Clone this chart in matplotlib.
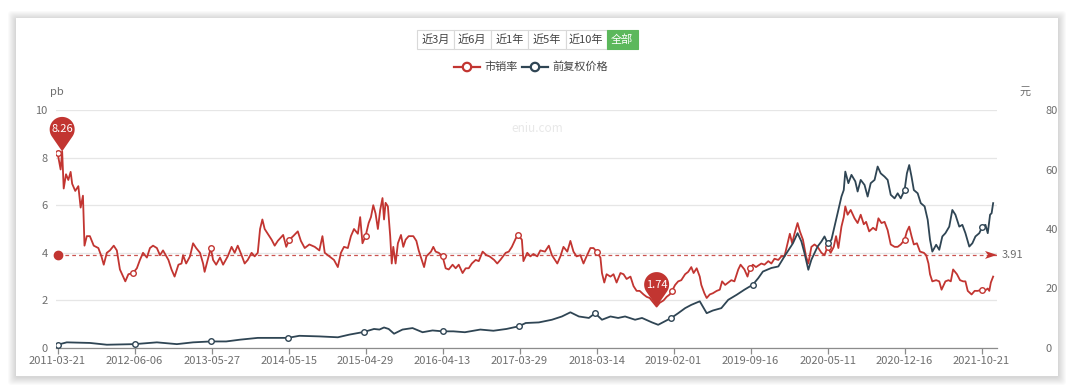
import numpy as np
import matplotlib
matplotlib.use("Agg")
import matplotlib.pyplot as plt
from matplotlib.path import Path
from matplotlib.patches import PathPatch, Rectangle, FancyBboxPatch, Circle
from matplotlib.lines import Line2D
from matplotlib.transforms import Affine2D, ScaledTranslation

plt.rcParams['font.family'] = ['Noto Sans CJK SC', 'DejaVu Sans']

# ---------------- data ----------------
dates = ['2011-03-21', '2012-06-06', '2013-05-27', '2014-05-15', '2015-04-29',
         '2016-04-13', '2017-03-29', '2018-03-14', '2019-02-01', '2019-09-16',
         '2020-05-11', '2020-12-16', '2021-10-21']
tick_every = 100          # one date label every 100 trading days
last_day = 1220

ps_day = [0, 4, 6, 8, 11, 14, 17, 19, 23, 27, 30, 33, 35, 38, 42, 47, 53, 57, 60, 64,
          68, 73, 77, 81, 88, 92, 98, 103, 107, 111, 116, 120, 124, 129, 133, 137, 144, 148, 152, 157,
          161, 163, 167, 172, 176, 180, 185, 189, 191, 195, 199, 202, 206, 211, 215, 221, 226, 230, 234, 239,
          243, 247, 252, 256, 260, 263, 266, 269, 273, 278, 282, 286,
          293, 297, 301, 306, 312, 316, 321, 327, 334, 340, 344, 347, 353, 359, 364, 368, 372, 377,
          381, 385, 390, 393, 396, 400, 404, 407, 410, 413, 416, 419, 422, 424, 426, 429, 432, 434, 436, 439,
          442, 446, 449, 452, 456, 462, 466, 469, 473, 476, 479, 485, 488, 491, 495, 500, 504, 508, 513, 517,
          521, 526, 530, 534, 538, 543, 547, 552, 557, 561, 567, 571, 575, 582, 586, 590, 595, 598,
          603, 605, 610, 614, 618, 623, 627, 633, 638, 642, 649, 653, 657, 662, 666, 670, 674, 679, 683, 687,
          692, 696, 700, 705, 707, 710, 713, 718, 722, 726, 731, 735, 739, 744, 748, 752, 756, 761, 765, 769,
          774, 778, 782, 787, 791, 795, 798, 802, 806, 810, 815, 819, 823, 826, 830, 834, 836, 840, 843, 847,
          851, 856, 860, 863, 867, 871, 875, 879, 884, 887, 892, 896, 899, 903, 907,
          914, 918, 923, 927, 931, 936, 940, 944, 948, 951, 954, 957, 961, 964, 968, 972, 975, 979, 983, 987,
          992, 996, 1000, 1004, 1008, 1011, 1014, 1018, 1021, 1023, 1026, 1030, 1035, 1039, 1043, 1047, 1050, 1054, 1059, 1063,
          1066, 1070, 1074, 1078, 1082, 1087, 1091, 1095, 1100, 1103, 1106, 1109, 1112, 1116, 1120, 1125, 1128, 1131, 1133, 1136,
          1141, 1145, 1148, 1153, 1157, 1160, 1163, 1168, 1172, 1176, 1179, 1182, 1187, 1191, 1195, 1200, 1204, 1208, 1210, 1212,
          1215]
ps_val = [8.2, 7.5, 8.26, 6.7, 7.3, 7.06, 7.4, 6.9, 6.6, 6.8, 5.9, 6.4, 4.3, 4.7, 4.7, 4.3, 4.2, 3.85, 3.5, 4.0,
          4.1, 4.3, 4.1, 3.3, 2.8, 3.1, 3.15, 3.35, 3.7, 4.0, 3.8, 4.2, 4.3, 4.2, 3.9, 4.1, 3.7, 3.3, 3.0, 3.5,
          3.55, 3.9, 3.55, 3.85, 4.4, 4.2, 4.0, 3.55, 3.2, 3.7, 4.2, 3.7, 3.5, 3.8, 3.5, 3.85, 4.25, 4.0, 4.3, 3.9,
          3.55, 3.7, 4.0, 3.85, 4.0, 5.0, 5.4, 5.0, 4.8, 4.55, 4.3, 4.5,
          4.75, 4.25, 4.55, 4.7, 4.9, 4.5, 4.2, 4.35, 4.25, 4.1, 4.7, 4.0, 3.85, 3.7, 3.4, 4.0, 4.25, 4.2,
          4.7, 5.0, 4.8, 5.5, 4.4, 4.7, 5.25, 5.5, 6.0, 5.65, 5.0, 5.8, 6.3, 5.4, 6.1, 5.95, 4.7, 3.55, 4.25, 3.55,
          4.4, 4.75, 4.25, 4.55, 4.7, 4.7, 4.5, 4.1, 3.7, 3.4, 3.85, 4.05, 4.25, 4.05, 4.0, 3.85, 3.35, 3.3, 3.5, 3.35,
          3.5, 3.15, 3.35, 3.35, 3.55, 3.7, 3.65, 4.05, 3.9, 3.85, 3.7, 3.55, 3.7, 4.0, 4.05, 4.25, 4.6, 4.75,
          4.55, 3.65, 4.0, 3.85, 3.95, 3.85, 4.1, 4.05, 4.3, 3.9, 3.55, 3.85, 4.25, 4.05, 4.5, 4.05, 3.85, 3.9, 3.55, 3.85,
          4.2, 4.2, 4.05, 3.8, 3.15, 2.75, 3.1, 3.0, 3.1, 2.75, 3.15, 3.1, 2.9, 3.0, 2.6, 2.4, 2.4, 2.25, 2.15, 2.1,
          1.9, 1.74, 1.9, 2.0, 2.15, 2.25, 2.4, 2.65, 2.8, 2.85, 3.1, 3.2, 3.4, 3.15, 3.35, 3.0, 2.65, 2.3, 2.1, 2.25,
          2.3, 2.4, 2.45, 2.8, 2.65, 2.75, 2.85, 2.8, 3.3, 3.5, 3.3, 3.0, 3.35, 3.5, 3.4,
          3.55, 3.5, 3.65, 3.55, 3.75, 3.7, 3.85, 3.85, 4.4, 4.8, 4.4, 4.8, 5.25, 4.9, 4.55, 3.85, 3.55, 4.25, 4.35, 4.25,
          4.0, 3.9, 4.25, 4.0, 4.25, 4.7, 4.2, 5.1, 5.5, 5.95, 5.6, 5.8, 5.45, 5.25, 5.6, 5.2, 5.3, 4.9, 5.05, 4.95,
          5.45, 5.25, 5.3, 4.95, 4.35, 4.25, 4.25, 4.35, 4.55, 4.9, 5.1, 4.7, 4.35, 4.4, 4.05, 4.0, 3.9, 3.55, 3.1, 2.8,
          2.85, 2.8, 2.45, 2.8, 2.85, 2.8, 3.3, 3.1, 2.85, 2.8, 2.8, 2.4, 2.25, 2.4, 2.4, 2.45, 2.4, 2.5, 2.4, 2.75,
          3.0]

price_day = [0, 12, 42, 64, 100, 129, 155, 176, 199, 219, 237, 260, 280, 299, 314, 340, 364, 379, 398, 411,
             418, 424, 430, 437, 448, 461, 474, 487, 500, 514, 529, 549, 566, 583, 599, 608, 625, 642, 655, 666,
             677, 690, 698, 707, 718, 728, 737, 750, 759, 772, 780, 789, 797, 806, 815, 823, 834, 843, 851, 862,
             871, 882, 892, 903, 910, 916, 927, 936, 944, 951, 955, 961, 966, 970, 975, 979, 983, 987, 992, 996,
             1000, 1005, 1009, 1013, 1018, 1021, 1023, 1027, 1031, 1036, 1039, 1043, 1048, 1052, 1056, 1061, 1065, 1069, 1074, 1078,
             1082, 1087, 1091, 1095, 1100, 1103, 1106, 1109, 1112, 1117, 1121, 1126, 1130, 1133, 1136, 1141, 1145, 1149, 1153, 1158,
             1162, 1166, 1171, 1175, 1179, 1184, 1188, 1192, 1197, 1201, 1205, 1208, 1211, 1213, 1215]
price_val = [1.1, 1.9, 1.7, 1.1, 1.3, 1.9, 1.3, 1.9, 2.2, 2.2, 2.8, 3.4, 3.4, 3.4, 4.1, 3.9, 3.6, 4.5, 5.4, 6.4,
             6.2, 6.9, 6.4, 4.8, 6.2, 6.7, 5.3, 5.9, 5.6, 5.6, 5.3, 6.2, 5.8, 6.4, 7.3, 8.4, 8.6, 9.5, 10.6, 12.0,
             10.6, 10.1, 11.7, 9.5, 10.6, 10.1, 10.6, 9.5, 10.1, 8.6, 7.8, 9.0, 10.1, 11.7, 13.4, 14.5, 15.7, 11.7, 12.6, 13.4,
             16.2, 17.9, 19.6, 21.3, 23.5, 25.7, 26.9, 27.4, 30.8, 33.6, 35.2, 38.6, 35.8, 31.9, 26.3, 29.7, 31.9, 34.1, 35.8, 37.5,
             35.2, 36.4, 40.8, 45.3, 50.9, 53.1, 59.3, 55.4, 58.2, 56.0, 52.6, 56.5, 54.8, 50.9, 55.4, 56.5, 61.0, 58.7, 57.6, 56.5,
             51.5, 50.3, 52.0, 50.3, 53.1, 58.7, 61.5, 57.6, 53.1, 52.0, 48.7, 47.6, 43.1, 36.4, 32.4, 34.7, 33.0, 37.5, 38.6, 40.8,
             46.4, 44.8, 40.8, 41.4, 38.6, 34.1, 35.2, 37.5, 38.6, 40.8, 41.4, 38.6, 44.8, 45.3, 48.7]

ps_avg = 3.91

RED = '#c23531'
DARK = '#2f4554'
GRAY_TXT = '#6e6e6e'

W, H = 1080, 391
fig = plt.figure(figsize=(W / 100, H / 100), dpi=100)
fig.patch.set_facecolor('white')

# ---------------- card background ----------------
bg = fig.add_axes([0, 0, 1, 1], zorder=0)
bg.set_xlim(0, W)
bg.set_ylim(H, 0)
bg.axis('off')
for k in range(8, 0, -1):
    bg.add_patch(FancyBboxPatch((16 - k, 18 - k + 1), 1042 + 2 * k, 358 + 2 * k,
                                boxstyle='round,pad=0,rounding_size=4',
                                fc='#000000', ec='none', alpha=0.018))
bg.add_patch(Rectangle((16, 18), 1042, 358, fc='white', ec='none'))

# range buttons
labels_btn = ['近3月', '近6月', '近1年', '近5年', '近10年', '全部']
edges = [417, 453.5, 491, 528, 565.5, 606.5, 637.5]
for i, lab in enumerate(labels_btn):
    x0, x1 = edges[i], edges[i + 1]
    active = (lab == '全部')
    bg.add_patch(Rectangle((x0, 29.5), x1 - x0, 19, fc='#5cb85c' if active else 'white',
                           ec='#5cb85c' if active else '#d9d9d9', lw=0.8))
    bg.text((x0 + x1) / 2, 39.3, lab, ha='center', va='center', fontsize=8,
            color='white' if active else '#444444')

# legend
def legend_item(x, color, label):
    bg.add_line(Line2D([x, x + 26], [67, 67], color=color, lw=1.6))
    bg.add_patch(Circle((x + 13, 67), 4.2, fc='white', ec=color, lw=1.6, zorder=3))
    bg.text(x + 30, 67, label, ha='left', va='center', fontsize=8, color='#444444')

legend_item(454, RED, '市销率')
legend_item(522, DARK, '前复权价格')

# watermark
bg.text(537, 128, 'eniu.com', ha='center', va='center', fontsize=8.5, color='#e8e8e8')

# ---------------- plot area ----------------
left, right, top, bottom = 56, 997, 110, 348
ax = fig.add_axes([left / W, 1 - bottom / H, (right - left) / W, (bottom - top) / H], zorder=2)
ax.patch.set_alpha(0)
ax2 = ax.twinx()

ax.set_xlim(-2, last_day)
ax.set_ylim(0, 10)
ax2.set_ylim(0, 80)

ax.set_yticks(np.arange(0, 11, 2))
ax2.set_yticks(np.arange(0, 81, 20))
ax.grid(axis='y', color='#e6e6e6', lw=0.9)
ax.set_axisbelow(True)

tick_pos = np.arange(len(dates)) * tick_every
ax.set_xticks(tick_pos)
ax.set_xticklabels(dates)

for s in ['top', 'right', 'left']:
    ax.spines[s].set_visible(False)
for s in ['top', 'right', 'left', 'bottom']:
    ax2.spines[s].set_visible(False)
ax.spines['bottom'].set_color('#8c8c8c')
ax.spines['bottom'].set_linewidth(0.9)

ax.tick_params(axis='x', length=4, width=0.9, color='#8c8c8c', labelsize=8, labelcolor=GRAY_TXT, pad=2)
ax.tick_params(axis='y', length=0, labelsize=8, labelcolor=GRAY_TXT, pad=6)
ax2.tick_params(axis='y', length=0, labelsize=8, labelcolor=GRAY_TXT, pad=35)

fig.text(57 / W, 1 - 92 / H, 'pb', ha='center', va='center', fontsize=8, color=GRAY_TXT)
fig.text(1025 / W, 1 - 92 / H, '元', ha='center', va='center', fontsize=8, color=GRAY_TXT)

# lines
ax.plot(ps_day, ps_val, color=RED, lw=1.3, zorder=4, solid_joinstyle='round')
ax2.plot(price_day, price_val, color=DARK, lw=1.3, zorder=3, solid_joinstyle='round')

# hollow symbols at the labelled dates
def nearest_idx(days, targets):
    days = np.asarray(days)
    return [int(np.argmin(np.abs(days - t))) for t in targets]

pi = nearest_idx(ps_day, tick_pos)
ax.plot(np.asarray(ps_day)[pi], np.asarray(ps_val)[pi], 'o', ms=4, mfc='white', mec=RED, mew=1, zorder=5)
qi = nearest_idx(price_day, tick_pos)
ax2.plot(np.asarray(price_day)[qi], np.asarray(price_val)[qi], 'o', ms=4, mfc='white', mec=DARK, mew=1, zorder=5)

# average mark line
ax.plot([0, last_day], [ps_avg, ps_avg], color=RED, lw=0.9, alpha=0.85, dashes=(3, 2.5), zorder=3)
ax.plot([0], [ps_avg], 'o', ms=6, color=RED, zorder=6, clip_on=False)
arrow = Path([(0, 0), (-12, 4), (-9, 0), (-12, -4), (0, 0)],
             [Path.MOVETO, Path.LINETO, Path.LINETO, Path.LINETO, Path.CLOSEPOLY])
ax.add_patch(PathPatch(arrow, fc=RED, ec='none', clip_on=False, zorder=6,
                       transform=ScaledTranslation(last_day, ps_avg, ax.transData)))
ax.annotate(f'{ps_avg:.2f}', xy=(last_day, ps_avg), xytext=(5, 0), textcoords='offset pixels',
            ha='left', va='center', fontsize=8, color=GRAY_TXT, annotation_clip=False)

# max / min pins
def pin_path(r=12.5, h=22.0, n=60):
    a = np.arccos(r / h)
    th = np.linspace(-np.pi / 2 + a, 3 * np.pi / 2 - a, n)
    verts = [(0, 0)] + [(r * np.cos(t), h + r * np.sin(t)) for t in th] + [(0, 0)]
    codes = [Path.MOVETO] + [Path.LINETO] * n + [Path.CLOSEPOLY]
    return Path(verts, codes)

pin = pin_path()
vmax_i = int(np.argmax(ps_val))
vmin_i = int(np.argmin(ps_val))
for i in (vmax_i, vmin_i):
    x, y = ps_day[i], ps_val[i]
    ax.add_patch(PathPatch(pin, fc=RED, ec='none', clip_on=False, zorder=7,
                           transform=ScaledTranslation(x, y, ax.transData)))
    ax.annotate(f'{y:.2f}', xy=(x, y), xytext=(0, 22), textcoords='offset pixels',
                ha='center', va='center', fontsize=8, color='white', zorder=8,
                annotation_clip=False)

fig.savefig('out.png', dpi=100, facecolor='white')
